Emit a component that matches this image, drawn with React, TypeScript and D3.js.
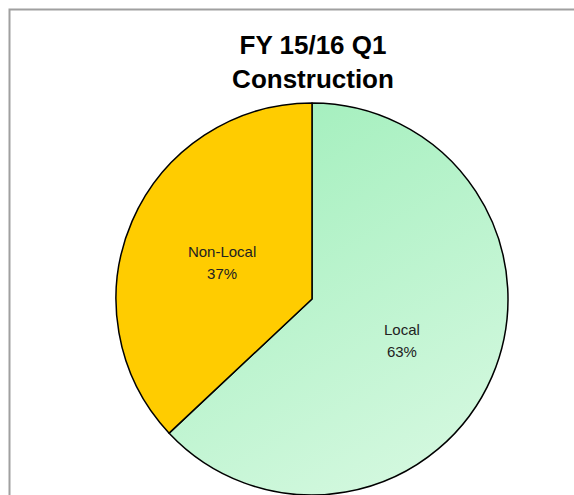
import React, { useEffect, useRef } from 'react';
import * as d3 from 'd3';

const categories = ['Local', 'Non-Local'];
const shares = [63, 37];
const titleLines = ['FY 15/16 Q1', 'Construction'];

const App = () => {
  const svgRef = useRef<SVGSVGElement | null>(null);

  useEffect(() => {
    const svg = d3.select(svgRef.current);
    const width = 574;
    const height = 495;
    svg.selectAll('*').remove();

    const cx = 312;
    const cy = 299;
    const radius = 196;

    // gradiente para la porción verde (coordenadas relativas al centro del pastel)
    const defs = svg.append('defs');
    const grad = defs.append('linearGradient')
      .attr('id', 'greenGrad')
      .attr('gradientUnits', 'userSpaceOnUse')
      .attr('x1', -60).attr('y1', -190)
      .attr('x2', 160).attr('y2', 195);
    grad.append('stop').attr('offset', '0%').attr('stop-color', '#a3efbd');
    grad.append('stop').attr('offset', '100%').attr('stop-color', '#d8f9e2');

    // marco del gráfico
    svg.append('rect')
      .attr('x', 9.5).attr('y', 9.5)
      .attr('width', width + 20).attr('height', height + 20)
      .attr('fill', '#fff')
      .attr('stroke', '#a0a0a0')
      .attr('stroke-width', 2);

    // título
    svg.append('text')
      .attr('x', 313)
      .attr('text-anchor', 'middle')
      .style('font-family', 'Liberation Sans, Arial, sans-serif')
      .style('font-weight', 'bold')
      .style('font-size', '26px')
      .style('fill', '#000')
      .selectAll('tspan')
      .data(titleLines)
      .enter()
      .append('tspan')
      .attr('x', 313)
      .attr('y', (d, i) => 54 + i * 34)
      .text(d => d);

    const data = categories.map((c, i) => ({ name: c, value: shares[i] }));
    const pie = d3.pie<any>().sort(null).value(d => d.value);
    const arc = d3.arc<any>().innerRadius(0).outerRadius(radius);
    const labelArc = d3.arc<any>().innerRadius(radius * 0.5).outerRadius(radius * 0.5);
    const color = d3.scaleOrdinal<string>().domain(categories).range(['url(#greenGrad)', '#ffcc00']);

    const g = svg.append('g').attr('transform', `translate(${cx},${cy})`);
    const arcs = pie(data);

    g.selectAll('path')
      .data(arcs)
      .enter()
      .append('path')
      .attr('d', arc)
      .attr('fill', d => color(d.data.name))
      .attr('stroke', '#000')
      .attr('stroke-width', 1.5)
      .attr('stroke-linejoin', 'round');

    const labels = g.selectAll('g.lbl')
      .data(arcs)
      .enter()
      .append('text')
      .attr('class', 'lbl')
      .attr('text-anchor', 'middle')
      .style('font-family', 'Liberation Sans, Arial, sans-serif')
      .style('font-size', '15px')
      .style('fill', '#222');

    labels.append('tspan')
      .attr('x', d => labelArc.centroid(d)[0])
      .attr('y', d => labelArc.centroid(d)[1] - 3)
      .text(d => d.data.name);
    labels.append('tspan')
      .attr('x', d => labelArc.centroid(d)[0])
      .attr('y', d => labelArc.centroid(d)[1] + 19)
      .text(d => `${d.data.value}%`);
  }, []);

  return (
    <svg ref={svgRef} width={574} height={495}
      style={{ position: 'absolute', left: 0, top: 0 }}></svg>
  );
};

export default App;
